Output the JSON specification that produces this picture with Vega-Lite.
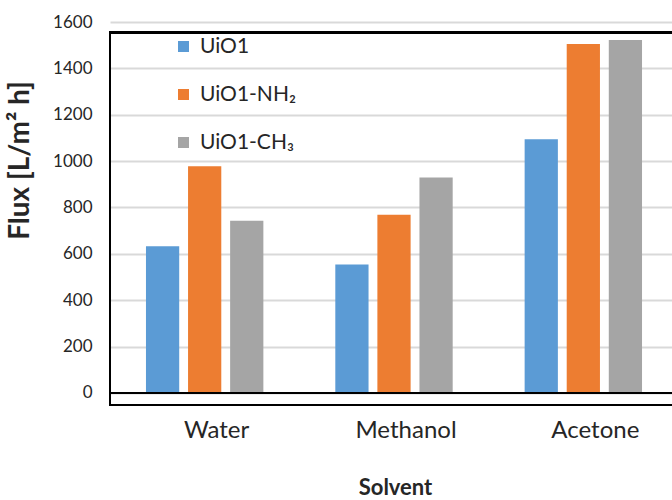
{
  "$schema": "https://vega.github.io/schema/vega-lite/v6.json",
  "autosize": "none",
  "padding": {"left": 110, "top": 22, "right": -6, "bottom": 95},
  "width": 568,
  "height": 383,
  "config": {
    "view": {"stroke": null},
    "font": "Lato",
    "axis": {"labelColor": "#262626", "titleColor": "#262626"},
    "legend": {"labelColor": "#262626"}
  },
  "data": {
    "values": [
      {"solvent": "Water", "material": "UiO1", "flux": 633},
      {"solvent": "Water", "material": "UiO1-NH₂", "flux": 978},
      {"solvent": "Water", "material": "UiO1-CH₃", "flux": 743},
      {"solvent": "Methanol", "material": "UiO1", "flux": 554},
      {"solvent": "Methanol", "material": "UiO1-NH₂", "flux": 769},
      {"solvent": "Methanol", "material": "UiO1-CH₃", "flux": 929},
      {"solvent": "Acetone", "material": "UiO1", "flux": 1094},
      {"solvent": "Acetone", "material": "UiO1-NH₂", "flux": 1505},
      {"solvent": "Acetone", "material": "UiO1-CH₃", "flux": 1522}
    ]
  },
  "encoding": {
    "y": {
      "type": "quantitative",
      "scale": {"domain": [-52, 1600], "nice": false, "zero": false},
      "axis": {
        "title": "Flux [L/m² h]",
        "titleFontSize": 28,
        "titleFontWeight": "bold",
        "titleX": -76,
        "titleY": 138,
        "titleAlign": "center",
        "titleAngle": -90,
        "titleBaseline": "bottom",
        "values": [0, 200, 400, 600, 800, 1000, 1200, 1400, 1600],
        "format": "d",
        "labelFontSize": 17,
        "labelPadding": 18,
        "ticks": false,
        "domain": false,
        "grid": true,
        "gridColor": "#d9d9d9",
        "gridWidth": 2
      }
    }
  },
  "layer": [
    {
      "mark": {"type": "bar"},
      "encoding": {
        "x": {
          "field": "solvent",
          "type": "nominal",
          "sort": ["Water", "Methanol", "Acetone"],
          "scale": {"paddingInner": 0.38, "paddingOuter": 0.19},
          "axis": {
            "title": "Solvent",
            "titleFont": "Lato",
            "titleFontSize": 22,
            "titleFontWeight": "bold",
            "titleX": 285,
            "titleY": 72,
            "titleBaseline": "top",
            "labelFontSize": 24,
            "labelFont": "Lato",
            "labelAngle": 0,
            "labelPadding": 13,
            "labelOffset": 12,
            "ticks": false,
            "domain": false
          }
        },
        "xOffset": {
          "field": "material",
          "type": "nominal",
          "sort": ["UiO1", "UiO1-NH₂", "UiO1-CH₃"],
          "scale": {"paddingInner": 0.21, "paddingOuter": 0}
        },
        "y": {"field": "flux", "type": "quantitative"},
        "y2": {"datum": 0},
        "color": {
          "field": "material",
          "type": "nominal",
          "scale": {
            "domain": ["UiO1", "UiO1-NH₂", "UiO1-CH₃"],
            "range": ["#5b9bd5", "#ed7d31", "#a5a5a5"]
          },
          "legend": {
            "title": null,
            "orient": "none",
            "legendX": 63,
            "legendY": 14,
            "symbolType": "square",
            "symbolSize": 121,
            "symbolStrokeWidth": 0,
            "labelFont": "Lato",
            "labelFontSize": 21,
            "labelOffset": 6,
            "rowPadding": 26,
            "padding": 0
          }
        }
      }
    },
    {
      "mark": {"type": "rule", "color": "black", "strokeWidth": 2},
      "encoding": {"y": {"datum": 0}}
    },
    {
      "mark": {"type": "rect", "filled": false, "stroke": "black", "strokeWidth": 2},
      "encoding": {"y": {"datum": 1555}, "y2": {"datum": -52}}
    }
  ]
}
